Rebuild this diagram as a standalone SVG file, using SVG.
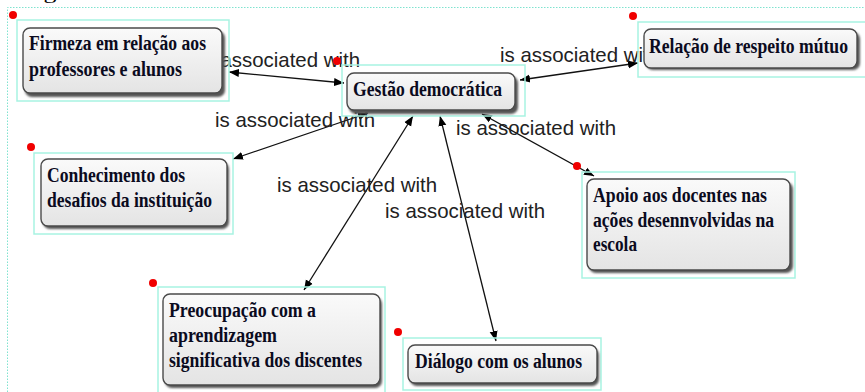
<svg xmlns="http://www.w3.org/2000/svg" width="865" height="392" viewBox="0 0 865 392">
  <defs>
    <linearGradient id="boxFill" x1="0" y1="0" x2="0" y2="1">
      <stop offset="0" stop-color="#fafafa"/>
      <stop offset="1" stop-color="#e4e4e4"/>
    </linearGradient>
    <filter id="soft" x="-10%" y="-10%" width="130%" height="140%">
      <feGaussianBlur stdDeviation="1.2"/>
    </filter>
    <marker id="arrow" viewBox="0 0 10 10" refX="10" refY="5" markerWidth="10" markerHeight="10" markerUnits="userSpaceOnUse" orient="auto-start-reverse">
      <path d="M0,1 L10,5 L0,9 Z" fill="#000"/>
    </marker>
  </defs>
  <style>
    .frame { fill: none; stroke: #7fe3cf; stroke-width: 1; stroke-dasharray: 1.5 1.5; }
    .sel { fill: none; stroke: #a8f3e2; stroke-width: 1.5; }
    .shadow { fill: #555; filter: url(#soft); }
    .box { fill: url(#boxFill); stroke: #4a4a4a; stroke-width: 1.4; }
    .dot { fill: #f00000; }
    .lbl { font-family: "Liberation Serif", "Times New Roman", serif; font-weight: bold; font-size: 20px; fill: #0b0b1e; }
    .edge { fill: none; stroke: #111; stroke-width: 1.3; marker-start: url(#arrow); marker-end: url(#arrow); }
    .elbl { font-family: "Liberation Sans", Arial, sans-serif; font-size: 21px; fill: #222; }
    .cap { font-family: "Liberation Serif", "Times New Roman", serif; font-size: 18px; fill: #000; }
  </style>

  <rect width="865" height="392" fill="#fff"/>
  <!-- caption, mostly above the top edge -->
  <text class="cap" x="22" y="-1.5" textLength="318" lengthAdjust="spacingAndGlyphs">Figura 3 – Gestão democrática</text>
  <path class="frame" d="M7.5,392 V7.5 H865"/>

  <!-- connectors and their labels, drawn under the nodes -->
  <g id="connectors">
    <line class="edge" x1="229" y1="72" x2="344" y2="83"/>
    <text class="elbl" x="200" y="67" textLength="160" lengthAdjust="spacingAndGlyphs">is associated with</text>

    <line class="edge" x1="520" y1="80" x2="638" y2="63"/>
    <text class="elbl" x="500" y="62" textLength="160" lengthAdjust="spacingAndGlyphs">is associated with</text>

    <line class="edge" x1="368" y1="113" x2="233" y2="159"/>
    <text class="elbl" x="215" y="127" textLength="160" lengthAdjust="spacingAndGlyphs">is associated with</text>

    <line class="edge" x1="413" y1="116" x2="304" y2="290"/>
    <text class="elbl" x="277" y="192" textLength="160" lengthAdjust="spacingAndGlyphs">is associated with</text>

    <line class="edge" x1="440" y1="116" x2="496" y2="341"/>
    <text class="elbl" x="385" y="218" textLength="160" lengthAdjust="spacingAndGlyphs">is associated with</text>

    <line class="edge" x1="482" y1="114" x2="594" y2="176"/>
    <text class="elbl" x="456" y="135" textLength="160" lengthAdjust="spacingAndGlyphs">is associated with</text>
  </g>

  <g id="node-firmeza">
    <rect class="sel" x="17" y="20" width="212" height="81"/>
    <rect class="shadow" x="25" y="31" width="200" height="66" rx="7"/>
    <rect class="box" x="23" y="28" width="199" height="65" rx="7"/>
    <text class="lbl" x="29" y="50" textLength="177" lengthAdjust="spacingAndGlyphs">Firmeza em relação aos</text>
    <text class="lbl" x="29" y="76" textLength="153" lengthAdjust="spacingAndGlyphs">professores e alunos</text>
    <circle class="dot" cx="13" cy="15" r="4"/>
  </g>

  <g id="node-gestao">
    <rect class="sel" x="342" y="65" width="183" height="51"/>
    <rect class="shadow" x="349" y="76" width="169" height="38" rx="7"/>
    <rect class="box" x="347" y="73" width="168" height="37" rx="7"/>
    <text class="lbl" x="353" y="96" textLength="149" lengthAdjust="spacingAndGlyphs">Gestão democrática</text>
    <circle class="dot" cx="337" cy="61" r="4"/>
  </g>

  <g id="node-relacao">
    <rect class="sel" x="638" y="22" width="230" height="55"/>
    <rect class="shadow" x="646" y="32" width="214" height="38" rx="7"/>
    <rect class="box" x="644" y="29" width="213" height="39" rx="7"/>
    <text class="lbl" x="649" y="53" textLength="199" lengthAdjust="spacingAndGlyphs">Relação de respeito mútuo</text>
    <circle class="dot" cx="633" cy="16" r="4"/>
  </g>

  <g id="node-conhecimento">
    <rect class="sel" x="34" y="153" width="199" height="81"/>
    <rect class="shadow" x="43" y="162" width="186" height="67" rx="7"/>
    <rect class="box" x="41" y="159" width="186" height="67" rx="7"/>
    <text class="lbl" x="47" y="182" textLength="138" lengthAdjust="spacingAndGlyphs">Conhecimento dos</text>
    <text class="lbl" x="47" y="207" textLength="165" lengthAdjust="spacingAndGlyphs">desafios da instituição</text>
    <circle class="dot" cx="31" cy="147" r="4"/>
  </g>

  <g id="node-apoio">
    <rect class="sel" x="582" y="172" width="213" height="106"/>
    <rect class="shadow" x="589" y="182" width="204" height="91" rx="7"/>
    <rect class="box" x="587" y="179" width="203" height="91" rx="7"/>
    <text class="lbl" x="593" y="202" textLength="174" lengthAdjust="spacingAndGlyphs">Apoio aos docentes nas</text>
    <text class="lbl" x="593" y="227" textLength="181" lengthAdjust="spacingAndGlyphs">ações desennvolvidas na</text>
    <text class="lbl" x="593" y="251" textLength="44" lengthAdjust="spacingAndGlyphs">escola</text>
    <circle class="dot" cx="577" cy="166" r="4"/>
  </g>

  <g id="node-preocupacao">
    <rect class="sel" x="158" y="287" width="227" height="110"/>
    <rect class="shadow" x="165" y="297" width="217" height="91" rx="7"/>
    <rect class="box" x="163" y="294" width="217" height="91" rx="7"/>
    <text class="lbl" x="169" y="317" textLength="147" lengthAdjust="spacingAndGlyphs">Preocupação com a</text>
    <text class="lbl" x="169" y="342" textLength="108" lengthAdjust="spacingAndGlyphs">aprendizagem</text>
    <text class="lbl" x="169" y="367" textLength="193" lengthAdjust="spacingAndGlyphs">significativa dos discentes</text>
    <circle class="dot" cx="153" cy="283" r="4"/>
  </g>

  <g id="node-dialogo">
    <rect class="sel" x="403" y="338" width="198" height="52"/>
    <rect class="shadow" x="410" y="348" width="189" height="38" rx="7"/>
    <rect class="box" x="408" y="345" width="189" height="38" rx="7"/>
    <text class="lbl" x="415" y="368" textLength="167" lengthAdjust="spacingAndGlyphs">Diálogo com os alunos</text>
    <circle class="dot" cx="398" cy="332" r="4"/>
  </g>
</svg>
